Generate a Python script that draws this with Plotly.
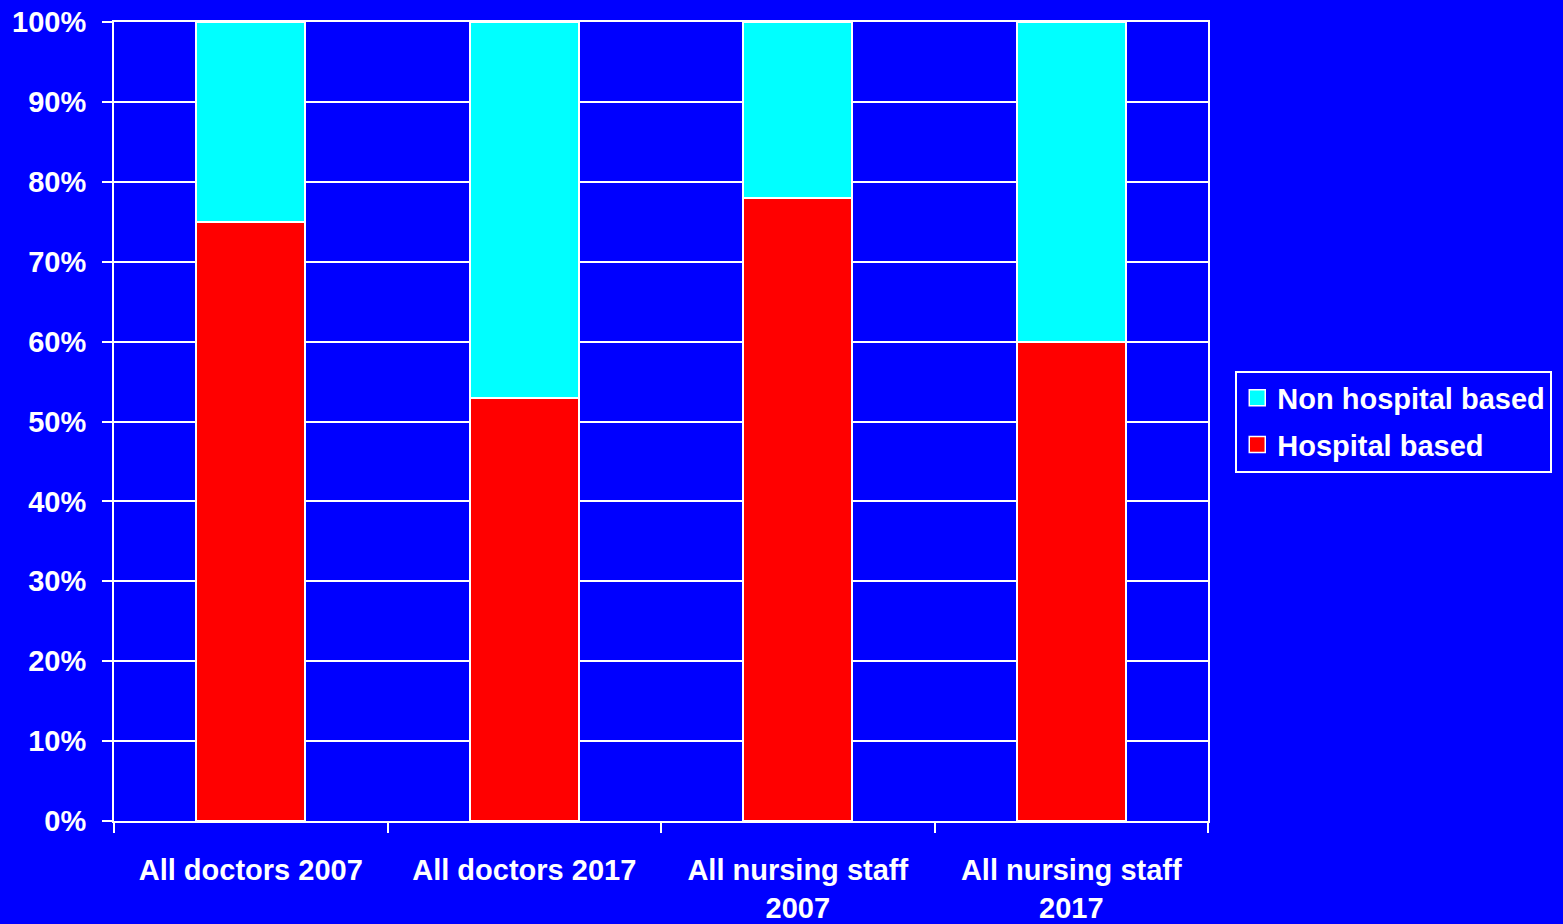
import plotly.graph_objects as go

categories = ["All doctors 2007", "All doctors 2017", "All nursing staff<br>2007", "All nursing staff<br>2017"]
hospital_based = [75, 53, 78, 60]
non_hospital_based = [25, 47, 22, 40]
y_ticks = [0, 10, 20, 30, 40, 50, 60, 70, 80, 90, 100]

BLUE = "#0000FF"
RED = "#FF0000"
CYAN = "#00FFFF"
FONT = dict(family="Liberation Sans, Arial, sans-serif", size=29, color="white")

fig = go.Figure()
fig.add_trace(go.Bar(
    x=categories, y=hospital_based, name="Hospital based",
    marker=dict(color=RED, line=dict(color="white", width=2)),
    showlegend=False, legendgroup="hosp",
))
fig.add_trace(go.Bar(
    x=categories, y=non_hospital_based, name="Non hospital based",
    marker=dict(color=CYAN, line=dict(color="white", width=2)),
    showlegend=False, legendgroup="nonhosp",
))

# légende avec des carrés plus gros que ceux des barres
for name, color, grp in [("Non hospital based", CYAN, "nonhosp"), ("Hospital based", RED, "hosp")]:
    fig.add_trace(go.Scatter(
        x=[None], y=[None], mode="markers", name=f"<b>{name}</b>", legendgroup=grp,
        marker=dict(symbol="square", size=19, color=color, line=dict(color="white", width=1.5)),
    ))

fig.update_layout(
    barmode="stack",
    bargap=0.6,
    width=1563,
    height=924,
    margin=dict(l=114, r=354, t=22, b=103),
    paper_bgcolor=BLUE,
    plot_bgcolor=BLUE,
    font=FONT,
    legend=dict(
        traceorder="grouped",
        tracegroupgap=6,
        x=1.024, y=0.5, xanchor="left", yanchor="middle",
        bgcolor=BLUE, bordercolor="white", borderwidth=2,
        font=dict(family="Liberation Sans, Arial, sans-serif", size=29, color="white"),
        itemwidth=30,
    ),
    xaxis=dict(
        type="category",
        tickson="boundaries",
        ticks="outside", ticklen=10, tickwidth=2, tickcolor="white",
        showline=True, linecolor="white", linewidth=2, mirror=True,
        showgrid=False,
        tickvals=categories,
        ticktext=[f"<b>{c}</b>" for c in categories],
        tickfont=FONT,
        ticklabelstandoff=22,
        automargin=False,
    ),
    yaxis=dict(
        range=[0, 100],
        tickvals=y_ticks,
        ticktext=[f"<b>{v}%</b>" for v in y_ticks],
        ticks="outside", ticklen=10, tickwidth=2, tickcolor="white",
        showline=True, linecolor="white", linewidth=2, mirror=True,
        showgrid=True, gridcolor="white", gridwidth=2,
        tickfont=FONT,
        ticklabelstandoff=10,
        zeroline=False,
        automargin=False,
    ),
)

fig.write_html(
    "out.html",
    config={"displayModeBar": False},
    post_script="document.body.style.margin='0';document.body.style.background='#0000FF';",
)
